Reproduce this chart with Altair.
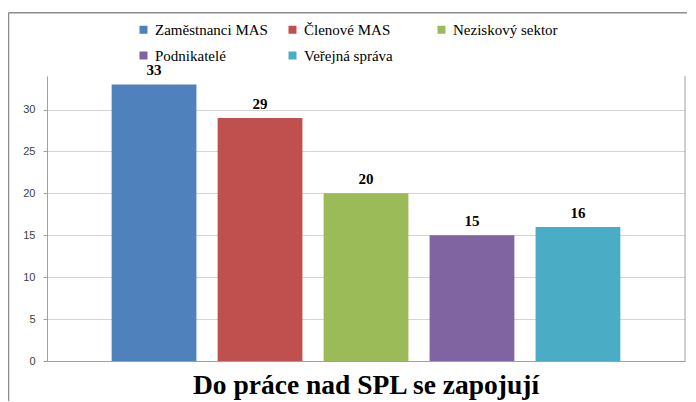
import altair as alt
import pandas as pd

categories = ["Zaměstnanci MAS", "Členové MAS", "Neziskový sektor", "Podnikatelé", "Veřejná správa"]
values = [33, 29, 20, 15, 16]
colors = ["#4F81BD", "#C0504D", "#9BBB59", "#8064A2", "#4BACC6"]
y_ticks = [0, 5, 10, 15, 20, 25, 30]
title_text = "Do práce nad SPL se zapojují"

df = pd.DataFrame({"cat": categories, "val": values})

W, H = 638, 285
SERIF = "Liberation Serif"

x_enc = alt.X("cat:N", sort=categories,
              scale=alt.Scale(paddingInner=0.2, paddingOuter=0.61),
              axis=alt.Axis(labels=False, ticks=False, title=None,
                            domainColor="#a0a0a0", grid=False))
y_scale = alt.Scale(domain=[0, 34], nice=False)

bars = alt.Chart(df).mark_bar().encode(
    x=x_enc,
    y=alt.Y("val:Q", scale=y_scale,
            axis=alt.Axis(values=y_ticks, title=None, grid=True, gridColor="#d4d4d4",
                          domainColor="#a0a0a0", tickColor="#a0a0a0", tickSize=4,
                          labelFont="Liberation Sans", labelFontSize=11, labelColor="#404040",
                          labelPadding=8)),
    color=alt.Color("cat:N", sort=categories,
                    scale=alt.Scale(domain=categories, range=colors),
                    legend=alt.Legend(title=None, orient="none", legendX=89, legendY=-54,
                                      direction="horizontal", columns=3, gridAlign="all",
                                      columnPadding=17, rowPadding=10, padding=0,
                                      symbolType="square", symbolSize=64, symbolStrokeWidth=0,
                                      labelFont=SERIF, labelFontSize=15, labelColor="#000000",
                                      labelOffset=4, labelLimit=300)),
)

labels = alt.Chart(df).mark_text(font=SERIF, fontSize=15, fontWeight="bold",
                                 color="#000000", baseline="alphabetic", dy=-9).encode(
    x=alt.X("cat:N", sort=categories),
    y=alt.Y("val:Q", scale=y_scale),
    text="val:Q",
)

frame_df = pd.DataFrame({"k": [1]})
right_border = alt.Chart(frame_df).mark_rule(color="#a0a0a0", strokeWidth=1).encode(
    x=alt.value(W), y=alt.value(0), y2=alt.value(H))
outer_left = alt.Chart(frame_df).mark_rule(color="#8c8c8c", strokeWidth=1.5).encode(
    x=alt.value(-38.5), y=alt.value(-63.3), y2=alt.value(H + 40))
outer_top = alt.Chart(frame_df).mark_rule(color="#8c8c8c", strokeWidth=1.5).encode(
    x=alt.value(-38.5), x2=alt.value(W + 20), y=alt.value(-63.3))

chart = alt.layer(bars, labels, right_border, outer_left, outer_top).properties(
    width=W, height=H,
    title=alt.Title(title_text, orient="bottom", anchor="middle", frame="group", font=SERIF,
                    fontSize=27.5, fontWeight="bold", color="#000000", offset=-30),
    autosize=alt.AutoSizeParams(type="none"),
    padding={"left": 39, "top": 68, "right": 2, "bottom": 40},
).configure(background="white").configure_view(stroke=None)

chart.save("out.html", embed_options={"renderer": "svg", "actions": False})
